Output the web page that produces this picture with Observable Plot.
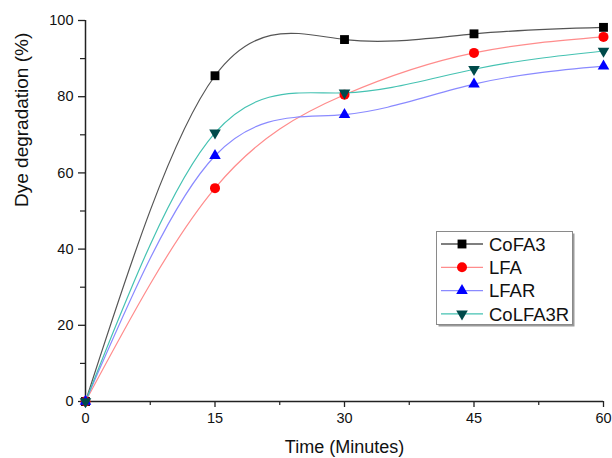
<!DOCTYPE html>
<html>
<head>
<meta charset="utf-8">
<script src="https://cdn.jsdelivr.net/npm/d3@7"></script>
<script src="https://cdn.jsdelivr.net/npm/@observablehq/plot@0.6"></script>
<style>
  html, body { margin: 0; padding: 0; background: #fff; }
  #wrap { position: relative; width: 612px; height: 458px; overflow: hidden; }
  #legend { position: absolute; left: 436px; top: 231px; }
</style>
</head>
<body>
<div id="wrap"></div>
<script>
// ---- data ----
const times = [0, 15, 30, 45, 60];
const seriesNames = ["CoFA3", "LFA", "LFAR", "CoLFA3R"];
const coFA3 = [0, 85.5, 95, 96.5, 98.2];
const lfa = [0, 56, 80.5, 91.5, 95.7];
const lfar = [0, 64.5, 75.3, 83.3, 88];
const colfa3r = [0, 70.5, 81, 87.2, 92];
const xTicks = [0, 15, 30, 45, 60];
const xMinor = [7.5, 22.5, 37.5, 52.5];
const yTicks = [0, 20, 40, 60, 80, 100];
const yMinor = [10, 30, 50, 70, 90];
const xLabel = "Time (Minutes)";
const yLabel = "Dye degradation (%)";

// ---- styles ----
const sqrt3 = Math.sqrt(3);
const triangleDown = {
  draw(context, size) {
    const y = -Math.sqrt(size / (sqrt3 * 3));
    context.moveTo(0, -y * 2);
    context.lineTo(-sqrt3 * y, y);
    context.lineTo(sqrt3 * y, y);
    context.closePath();
  }
};
const styles = {
  CoFA3:   {line: "#555555", marker: "#000000", symbol: "square",   r: 5.0},
  LFA:     {line: "#ff8c8c", marker: "#ff0000", symbol: "circle",   r: 5.0},
  LFAR:    {line: "#8a8aff", marker: "#0000ff", symbol: "triangle", r: 4.3},
  CoLFA3R: {line: "#45c2b2", marker: "#004a4a", symbol: triangleDown, r: 4.3}
};
const valuesBySeries = {CoFA3: coFA3, LFA: lfa, LFAR: lfar, CoLFA3R: colfa3r};
const rows = seriesNames.flatMap(s => times.map((t, i) => ({series: s, time: t, value: valuesBySeries[s][i]})));

const font = "'Liberation Sans', Arial, Helvetica, sans-serif";

const lineMarks = seriesNames.map(s => Plot.line(rows.filter(d => d.series === s), {
  x: "time", y: "value", stroke: styles[s].line, strokeWidth: 1.2, curve: "natural"
}));
const dotMarks = seriesNames.map(s => Plot.dot(rows.filter(d => d.series === s), {
  x: "time", y: "value", fill: styles[s].marker, stroke: "none", symbol: styles[s].symbol, r: styles[s].r
}));

const chart = Plot.plot({
  width: 612,
  height: 458,
  marginLeft: 85,
  marginRight: 9,
  marginTop: 20,
  marginBottom: 57,
  style: {fontFamily: font, fontSize: "14.5px", color: "#111", background: "#fff", overflow: "visible"},
  x: {domain: [0, 60]},
  y: {domain: [0, 100]},
  marks: [
    Plot.axisX({ticks: xTicks, tickSize: 6, tickPadding: 5, label: null, fontSize: 14.5, strokeWidth: 1.3, stroke: "#222"}),
    Plot.axisX({ticks: xMinor, tickSize: 4, tickFormat: () => "", label: null, strokeWidth: 1.2, stroke: "#222"}),
    Plot.axisY({ticks: yTicks, tickSize: 7, tickPadding: 5, label: null, fontSize: 14.5, strokeWidth: 1.3, stroke: "#222"}),
    Plot.axisY({ticks: yMinor, tickSize: 5, tickFormat: () => "", label: null, strokeWidth: 1.2, stroke: "#222"}),
    Plot.ruleX([0], {y1: 0, y2: 100, stroke: "#222", strokeWidth: 1.5}),
    Plot.ruleY([0], {x1: 0, x2: 60, stroke: "#222", strokeWidth: 1.5}),
    ...lineMarks,
    ...dotMarks,
    Plot.text([xLabel], {text: d => d, frameAnchor: "bottom", dy: 51, fontSize: 18, fill: "#111"}),
    Plot.text([yLabel], {text: d => d, frameAnchor: "left", dx: -64, dy: -4, rotate: -90, fontSize: 19, fill: "#111"})
  ]
});

const wrap = document.getElementById("wrap");
wrap.appendChild(chart);

// ---- legend (overlay) ----
const lw = 138, lh = 95;
const leg = d3.select(wrap).append("svg")
  .attr("id", "legend").attr("width", lw + 4).attr("height", lh + 4)
  .style("font-family", font);
leg.append("rect").attr("x", 2.5).attr("y", 2.5).attr("width", lw - 2).attr("height", lh - 2)
  .attr("fill", "#9a9a9a");
leg.append("rect").attr("x", 0.5).attr("y", 0.5).attr("width", lw - 2).attr("height", lh - 2)
  .attr("fill", "#fff").attr("stroke", "#8a8a8a").attr("stroke-width", 1);
const symbolType = {square: d3.symbolSquare, circle: d3.symbolCircle, triangle: d3.symbolTriangle};
seriesNames.forEach((s, i) => {
  const cy = 13 + i * 23.3;
  const g = leg.append("g").attr("transform", `translate(0,${cy})`);
  g.append("line").attr("x1", 5).attr("x2", 47).attr("y1", 0).attr("y2", 0)
    .attr("stroke", styles[s].line).attr("stroke-width", 1.3);
  const st = styles[s];
  const type = typeof st.symbol === "string" ? symbolType[st.symbol] : st.symbol;
  g.append("path").attr("d", d3.symbol(type, Math.PI * st.r * st.r)())
    .attr("transform", "translate(26,0)").attr("fill", st.marker);
  g.append("text").attr("x", 53).attr("y", 0).attr("dy", "0.36em")
    .attr("font-size", 18.5).attr("fill", "#111").text(s);
});
</script>
</body>
</html>
